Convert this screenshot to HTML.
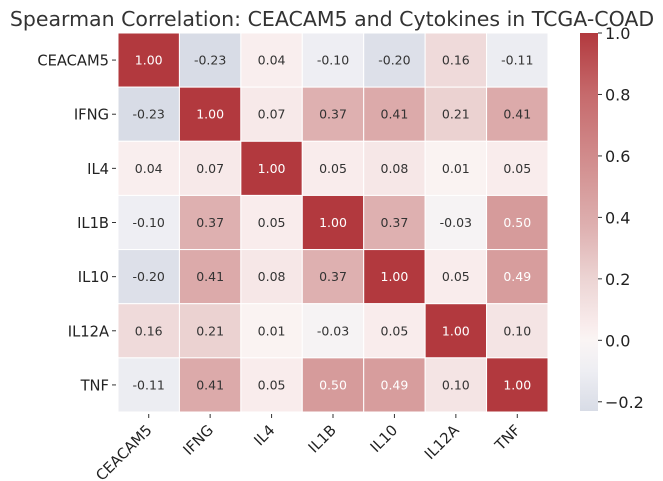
<!DOCTYPE html>
<html><head><meta charset="utf-8"><style>
body{margin:0;background:#fff;}
svg{display:block;font-family:"DejaVu Sans","Liberation Sans",sans-serif;}
</style></head><body>
<svg id="chart" width="663" height="481" viewBox="0 0 663 481">
<text x="332" y="26" text-anchor="middle" font-size="20.5" fill="#333">Spearman Correlation: CEACAM5 and Cytokines in TCGA-COAD</text>
<g id="cells"></g><g id="ylabels"></g><g id="xlabels"></g>
<defs><linearGradient id="cbg" x1="0" y1="1" x2="0" y2="0"></linearGradient></defs>
<g id="cbar"></g>
</svg>
<script>
const labels=["CEACAM5","IFNG","IL4","IL1B","IL10","IL12A","TNF"];
const r0=[1.00,-0.23,0.04,-0.10,-0.20,0.16,-0.11];
const r1=[-0.23,1.00,0.07,0.37,0.41,0.21,0.41];
const r2=[0.04,0.07,1.00,0.05,0.08,0.01,0.05];
const r3=[-0.10,0.37,0.05,1.00,0.37,-0.03,0.50];
const r4=[-0.20,0.41,0.08,0.37,1.00,0.05,0.49];
const r5=[0.16,0.21,0.01,-0.03,0.05,1.00,0.10];
const r6=[-0.11,0.41,0.05,0.50,0.49,0.10,1.00];
const cbTicks=[1.0,0.8,0.6,0.4,0.2,0.0,-0.2];
const rows=[r0,r1,r2,r3,r4,r5,r6];
const NS="http://www.w3.org/2000/svg";
const X0=118,X1=548,Y0=33,Y1=412;
const cw=(X1-X0)/labels.length,ch=(Y1-Y0)/labels.length;
const vmin=-0.23,vmax=1.0;
const stops=[[-0.23,[216,220,230]],[-0.1,[238,238,243]],[0,[250,245,244]],[0.05,[249,236,236]],[0.1,[244,228,228]],[0.2,[236,212,211]],[0.37,[222,176,176]],[0.5,[214,155,155]],[0.8,[198,106,108]],[1.0,[178,57,62]]];
function color(v){for(let i=1;i<stops.length;i++){if(v<=stops[i][0]){const a=stops[i-1],b=stops[i];const t=(v-a[0])/(b[0]-a[0]);return 'rgb('+a[1].map((c,k)=>Math.round(c+(b[1][k]-c)*t)).join(',')+')';}}return 'rgb(178,57,62)';}
function el(t,a,p){const e=document.createElementNS(NS,t);for(const k in a)e.setAttribute(k,a[k]);p.appendChild(e);return e;}
const cells=document.getElementById('cells');
rows.forEach((row,i)=>row.forEach((v,j)=>{
 const r=el('rect',{x:X0+j*cw,y:Y0+i*ch,width:cw,height:ch,fill:color(v),stroke:'#fff','stroke-width':1},cells);
 
 
 const t=el('text',{x:X0+(j+.5)*cw,y:Y0+(i+.5)*ch+4.5,'text-anchor':'middle','font-size':12.5,fill:v>=0.45?'#fff':'#333'},cells);
 t.textContent=v.toFixed(2);
 
 
}));
const yl=document.getElementById('ylabels'),xl=document.getElementById('xlabels');
labels.forEach((l,i)=>{
 const y=Y0+(i+.5)*ch;
 el('line',{x1:X0-6,x2:X0-2,y1:y,y2:y,stroke:'#333'},yl);
 const t=el('text',{x:X0-9,y:y+5.5,'text-anchor':'end','font-size':14.7,fill:'#222'},yl);
 t.textContent=l;
 
 
 const x=X0+(i+.5)*cw;
 el('line',{x1:x,x2:x,y1:Y1+2,y2:Y1+6,stroke:'#333'},xl);
 const u=el('text',{x:x+4,y:Y1+19,'text-anchor':'end','font-size':14.7,fill:'#222',transform:'rotate(-45 '+(x+4)+' '+(Y1+19)+')'},xl);
 u.textContent=l;
 
 
});
const g=document.getElementById('cbg');
stops.forEach(s=>{el('stop',{offset:((s[0]-vmin)/(vmax-vmin)),'stop-color':color(s[0])},g);});
const cb=document.getElementById('cbar');
const CX=580,CW=18,cy=v=>Y0+(vmax-v)/(vmax-vmin)*(Y1-1-Y0);
const bar=el('rect',{x:CX,y:Y0,width:CW,height:Y1-1-Y0,fill:'url(#cbg)'},cb);


cbTicks.forEach(v=>{
 const y=cy(v);
 el('line',{x1:CX+CW,x2:CX+CW+4,y1:y,y2:y,stroke:'#333'},cb);
 const t=el('text',{x:CX+CW+7,y:y+6,'font-size':16,fill:'#222'},cb);
 t.textContent=v<0?'\u2212'+Math.abs(v).toFixed(1):v.toFixed(1);
 
 
});
</script>
</body></html>
